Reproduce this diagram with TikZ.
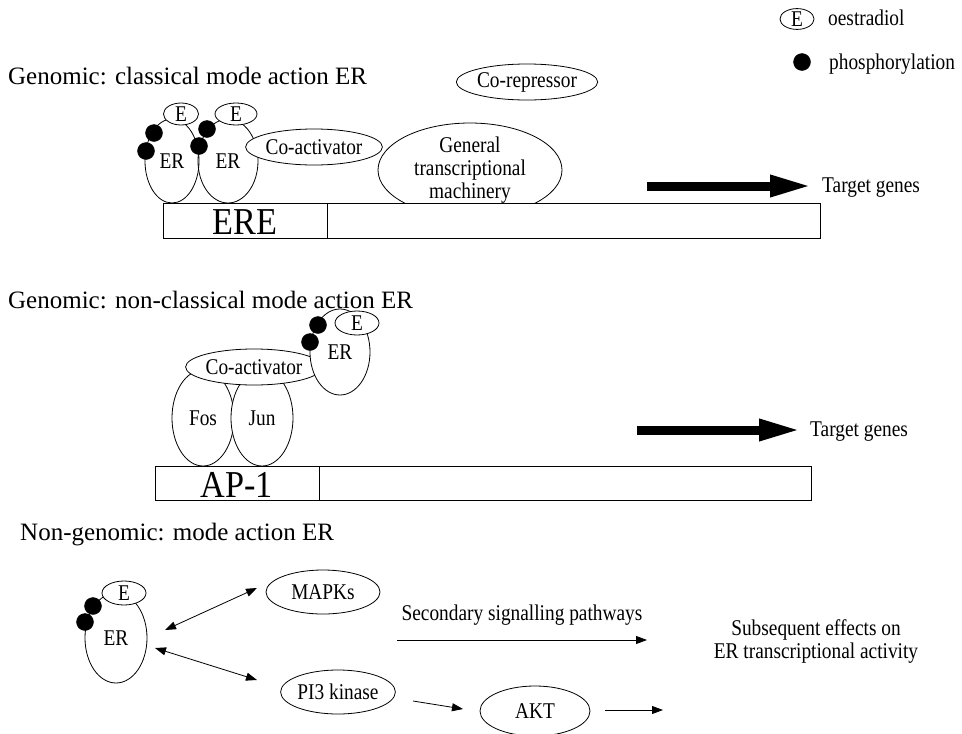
\documentclass[tikz,border=0pt]{standalone}
\usepackage{fontspec}
\setmainfont{Liberation Serif}
\newfontfamily\narrowserif[FakeStretch=0.86]{Liberation Serif}
\newfontfamily\bigserif[FakeStretch=0.9]{Liberation Serif}
\usetikzlibrary{shapes.geometric,arrows.meta}
\newcommand\smltxt{\narrowserif\fontsize{22.5}{23}\selectfont}
\newcommand\ttltxt{\fontsize{25}{29}\selectfont}
\newcommand\hugetxt{\bigserif\fontsize{38}{40}\selectfont}
\begin{document}
\begin{tikzpicture}[x=1pt,y=-1pt,
  ov/.style={draw, ellipse, fill=white, line width=0.8pt, inner sep=0pt, font=\smltxt},
  phos/.style={circle, fill=black, draw=black, inner sep=0pt, minimum size=17pt},
  lbl/.style={inner sep=0pt, font=\smltxt},
  ttl/.style={inner sep=0pt, anchor=west, font=\ttltxt},
  dna/.style={draw, line width=0.8pt, fill=white},
  thick arrow/.style={line width=9pt, -{Triangle[length=42pt,width=20pt]}},
  thin arrow/.style={line width=0.8pt, -{Triangle[length=11pt,width=8pt]}},
  dbl arrow/.style={line width=0.8pt, {Triangle[length=11pt,width=8pt]}-{Triangle[length=11pt,width=8pt]}}
]
\useasboundingbox (0,0) rectangle (962,734);
\fill[white] (0,0) rectangle (962,734);

% legend
\node[ov, minimum width=34, minimum height=20] (legE) at (797,19) {E};
\node[lbl, anchor=west] (legEt) at (828,18) {oestradiol};
\node[phos] (legP) at (802,62) {};
\node[lbl, anchor=west] (legPt) at (829,64) {phosphorylation};

% ---------- classical ----------
\node[ttl] (t1) at (8,76) {Genomic: classical mode action ER};
\node[ov, minimum width=120, minimum height=36] (corep) at (527,82) {Co-repressor};
\node[ov, minimum width=184, minimum height=70, align=center] (gtm) at (470,170)
  {General\\transcriptional\\machinery};
\draw[dna] (163,203) rectangle (820,238);
\draw[line width=0.8pt] (327,203) -- (327,238);
\node[inner sep=0pt, font=\hugetxt] (ere) at (245,222) {ERE};
\node[ov, minimum width=54, minimum height=84] (er1) at (172,161) {ER};
\node[ov, fill=none, minimum width=60, minimum height=84] (er2) at (228,161) {ER};
\node[ov, minimum width=128, minimum height=36] (coact1) at (314,147) {Co-activator};
\node[ov, minimum width=35, minimum height=22] (e1) at (181,114) {E};
\node[ov, minimum width=42, minimum height=22] (e2) at (236,114) {E};
\node[phos] (p1) at (154,133) {};
\node[phos] (p2) at (146,151) {};
\node[phos] (p3) at (207,129) {};
\node[phos] (p4) at (199,146) {};
\coordinate (a1s) at (647,186);
\node[lbl, anchor=west] (tg1) at (822,188) {Target genes};
\draw[thick arrow] (a1s) -- (812,186);

% ---------- non-classical ----------
\node[ttl] (t2) at (8,300) {Genomic: non-classical mode action ER};
\draw[dna] (155,466) rectangle (811,500);
\draw[line width=0.8pt] (319,466) -- (319,500);
\node[inner sep=0pt, font=\hugetxt] (ap1) at (237,485) {AP-1};
\node[ov, minimum width=62, minimum height=96] (fos) at (203,418) {Fos};
\node[ov, minimum width=62, minimum height=96] (jun) at (262,418) {Jun};
\node[ov, minimum width=130, minimum height=36] (coact2) at (254,367) {Co-activator};
\node[ov, minimum width=60, minimum height=86] (er4) at (340,352) {ER};
\node[ov, minimum width=44, minimum height=24] (e4) at (357,323) {E};
\node[phos] (p5) at (318,325) {};
\node[phos] (p6) at (310,342) {};
\coordinate (a2s) at (637,430);
\node[lbl, anchor=west] (tg2) at (810,432) {Target genes};
\draw[thick arrow] (a2s) -- (801,430);

% ---------- non-genomic ----------
\node[ttl] (t3) at (20,535) {Non-genomic: mode action ER};
\node[ov, minimum width=62, minimum height=90] (er3) at (116,638) {ER};
\node[ov, minimum width=44, minimum height=24] (e3) at (124,593) {E};
\node[phos] (p7) at (93,606) {};
\node[phos] (p8) at (85,622) {};
\node[ov, minimum width=114, minimum height=44] (mapk) at (323,592) {MAPKs};
\node[ov, minimum width=110, minimum height=44] (pi3) at (338,692) {PI3 kinase};
\node[ov, minimum width=110, minimum height=50] (akt) at (535,711) {AKT};
\coordinate (d1s) at (165,630);
\coordinate (d1e) at (257,588);
\coordinate (d2s) at (155,648);
\coordinate (d2e) at (257,680);
\draw[dbl arrow] (d1s) -- (d1e);
\draw[dbl arrow] (d2s) -- (d2e);
\coordinate (s1) at (397,640);
\coordinate (s2) at (647,640);
\draw[thin arrow] (s1) -- node[lbl, above=14pt] (sec) {Secondary signalling pathways} (s2);
\coordinate (k1) at (413,701);
\coordinate (k2) at (463,709);
\draw[thin arrow] (k1) -- (k2);
\coordinate (k3) at (605,710);
\coordinate (k4) at (663,710);
\draw[thin arrow] (k3) -- (k4);
\node[lbl, align=center] (sub) at (816,641) {Subsequent effects on\\ER transcriptional activity};
\end{tikzpicture}
\end{document}
